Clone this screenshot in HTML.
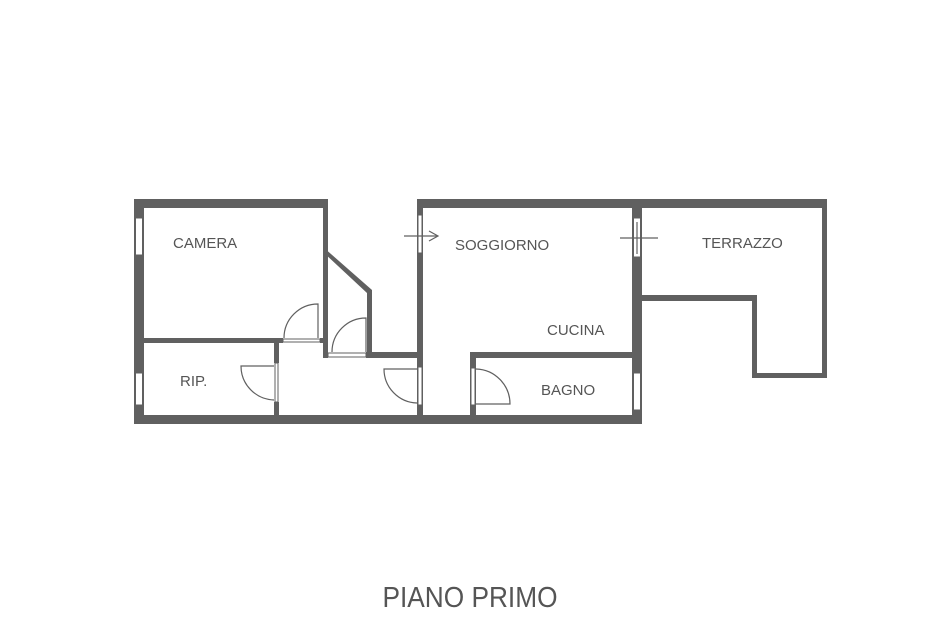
<!DOCTYPE html>
<html><head><meta charset="utf-8"><style>
html,body{margin:0;padding:0;background:#fff;}
svg{display:block;}
text{font-family:"Liberation Sans",sans-serif;fill:#555;}
</style></head><body>
<svg width="940" height="626" viewBox="0 0 940 626" xmlns="http://www.w3.org/2000/svg">
<g fill="#606060">
<rect x="134" y="199" width="194" height="9"/>
<rect x="134" y="199" width="10" height="225"/>
<rect x="323" y="199" width="5" height="159"/>
<rect x="134" y="415" width="508" height="9"/>
<rect x="144" y="338" width="139" height="5"/>
<rect x="320" y="338" width="8" height="5"/>
<rect x="274" y="343" width="5" height="20"/>
<rect x="274" y="402" width="5" height="13"/>
<polygon points="323,247 372,290 372,296 367,296 367,293 323,252"/>
<rect x="367" y="292" width="5" height="66"/>
<rect x="323" y="352" width="5" height="6"/>
<rect x="366" y="352" width="57" height="6"/>
<rect x="417" y="199" width="225" height="9"/>
<rect x="417" y="199" width="6" height="225"/>
<rect x="632" y="199" width="10" height="225"/>
<rect x="470" y="352" width="167" height="6"/>
<rect x="470" y="352" width="6" height="72"/>
<rect x="642" y="199" width="185" height="9"/>
<rect x="822" y="199" width="5" height="179"/>
<rect x="752" y="373" width="75" height="5"/>
<rect x="752" y="295" width="5" height="83"/>
<rect x="642" y="295" width="115" height="6"/>
</g>
<g fill="#fff" stroke="#606060" stroke-width="1">
<rect x="135.5" y="218" width="7" height="37"/>
<rect x="135.5" y="373" width="7" height="32"/>
<rect x="418" y="215" width="4" height="38"/>
<rect x="633.5" y="218" width="7" height="39"/>
<rect x="633.5" y="373" width="7" height="37"/>
<rect x="283" y="339" width="37" height="3"/>
<rect x="328" y="353" width="38" height="4"/>
<rect x="275" y="363" width="3" height="39"/>
<rect x="418" y="367" width="4" height="38"/>
<rect x="471" y="368" width="4" height="37"/>
</g>
<g fill="none" stroke="#606060" stroke-width="1.2">
<path d="M318,338 L318,304 A34,34 0 0 0 284,338"/>
<path d="M366,352 L366,318 A34,34 0 0 0 332,352"/>
<path d="M274,366 L241,366 A34,34 0 0 0 274,400"/>
<path d="M417,369 L384,369 A34,34 0 0 0 417,403"/>
<path d="M476,369 A35,35 0 0 1 510,404 L476,404"/>
<line x1="404" y1="236" x2="437" y2="236"/>
<path d="M429,231 L438,236 L429,241"/>
<line x1="620" y1="238" x2="658" y2="238"/>
<line x1="637" y1="222" x2="637" y2="254"/>
</g>
<g font-size="15">
<text x="173" y="248">CAMERA</text>
<text x="180" y="386">RIP.</text>
<text x="455" y="250">SOGGIORNO</text>
<text x="547" y="335">CUCINA</text>
<text x="541" y="395">BAGNO</text>
<text x="702" y="248">TERRAZZO</text>
</g>
<text x="470" y="607" font-size="29" text-anchor="middle" textLength="175" lengthAdjust="spacingAndGlyphs">PIANO PRIMO</text>
</svg>
</body></html>
